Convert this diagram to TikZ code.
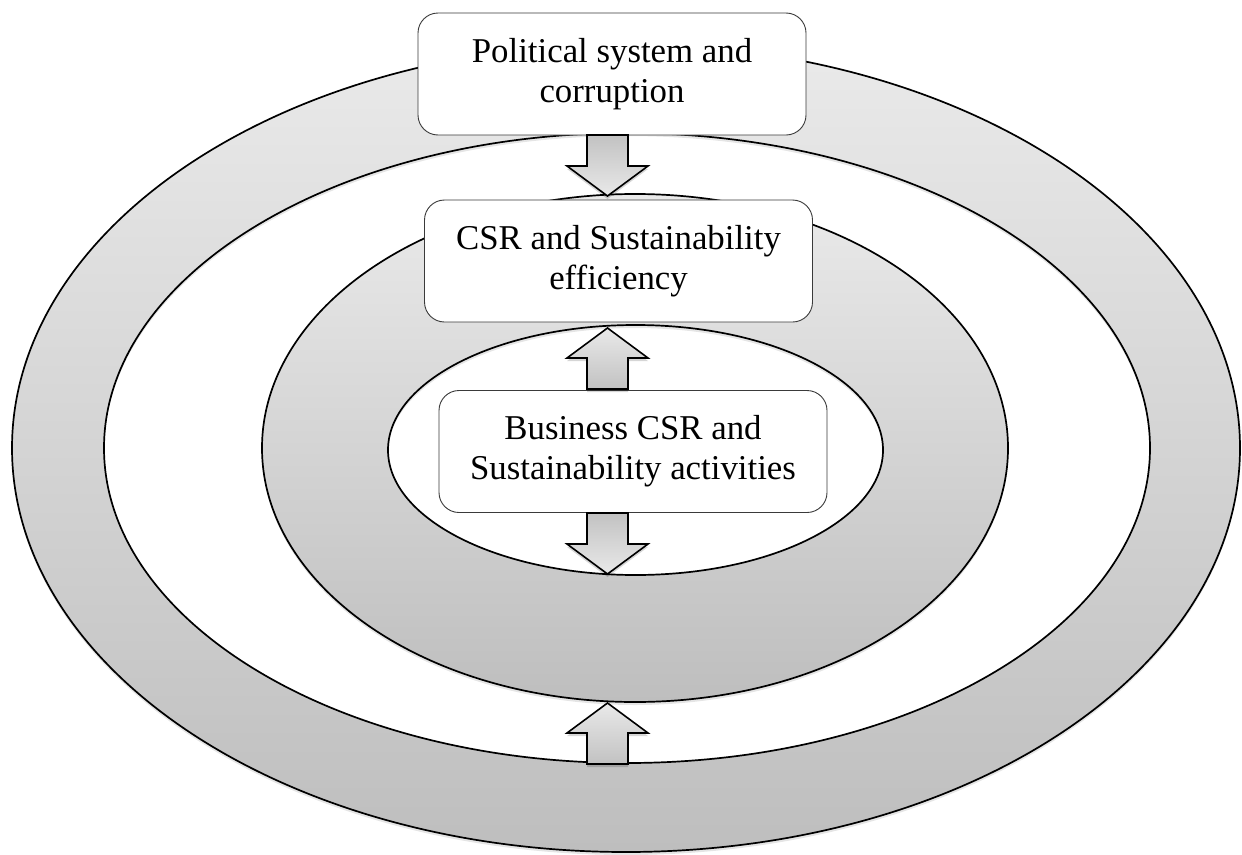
\documentclass[tikz,border=0pt]{standalone}
\usepackage{fontspec}
\setmainfont{Liberation Serif}
\definecolor{ringtop}{HTML}{EAEAEA}
\definecolor{ringbot}{HTML}{BEBEBE}
\definecolor{arrlight}{HTML}{E9E9E9}
\definecolor{arrdark}{HTML}{C2C2C2}
\definecolor{boxline}{HTML}{3A3A3A}
\begin{document}
\begin{tikzpicture}[x=1pt,y=-1pt,
  ring/.style={draw=black,line width=1.7pt,top color=ringtop,bottom color=ringbot,even odd rule},
  ringshadow/.style={fill=black,opacity=0.10,even odd rule},
  box/.style={draw=boxline,line width=0.9pt,fill=white,rounded corners=20pt,
    minimum width=388pt,minimum height=122pt,align=center,inner sep=0pt,
    font=\fontsize{34.8}{40}\selectfont},
  barrow/.style={draw=black,line width=1.6pt,line join=miter},
  arrshadow/.style={fill=black,opacity=0.16},
  downarrow/.pic={
    \fill[arrshadow] (-20.5,3) -- (20.5,3) -- (20.5,34) -- (40.5,34) -- (0,64) -- (-40.5,34) -- (-20.5,34) -- cycle;
    \path[barrow,top color=arrdark,bottom color=arrlight] (-20.5,0) -- (20.5,0) -- (20.5,31) -- (40.5,31) -- (0,61) -- (-40.5,31) -- (-20.5,31) -- cycle;},
  uparrow/.pic={
    \fill[arrshadow] (0,3) -- (40.5,33) -- (20.5,33) -- (20.5,64) -- (-20.5,64) -- (-20.5,33) -- (-40.5,33) -- cycle;
    \path[barrow,top color=arrlight,bottom color=arrdark] (0,0) -- (40.5,30) -- (20.5,30) -- (20.5,61) -- (-20.5,61) -- (-20.5,30) -- (-40.5,30) -- cycle;}
]
\fill[white] (0,0) rectangle (1242,854);
\useasboundingbox (0,0) rectangle (1242,854);

% outer ring (donut between outer and second ellipse)
\fill[ringshadow] (626,451) ellipse [x radius=614pt,y radius=404pt]
                  (627,451) ellipse [x radius=523pt,y radius=315pt];
\path[ring] (626,448) ellipse [x radius=614pt,y radius=404pt]
            (627,448) ellipse [x radius=523pt,y radius=315pt];

% middle ring (donut between third and inner ellipse)
\fill[ringshadow] (635,451) ellipse [x radius=373pt,y radius=254pt]
                  (635.5,453) ellipse [x radius=247.5pt,y radius=125pt];
\path[ring] (635,448) ellipse [x radius=373pt,y radius=254pt]
            (635.5,450) ellipse [x radius=247.5pt,y radius=125pt];

% boxes
\node[box] (pol) at (612,74) {Political system and\\corruption};
\node[box] (csr) at (618.5,261) {CSR and Sustainability\\efficiency};
\node[box] (bus) at (633,451.5) {Business CSR and\\Sustainability activities};

% block arrows
\coordinate (a1) at (607.5,135);
\coordinate (a2) at (607.5,328);
\coordinate (a3) at (607.5,513);
\coordinate (a4) at (607.5,703);
\pic at (a1) {downarrow};
\pic at (a2) {uparrow};
\pic at (a3) {downarrow};
\pic at (a4) {uparrow};
\end{tikzpicture}
\end{document}
